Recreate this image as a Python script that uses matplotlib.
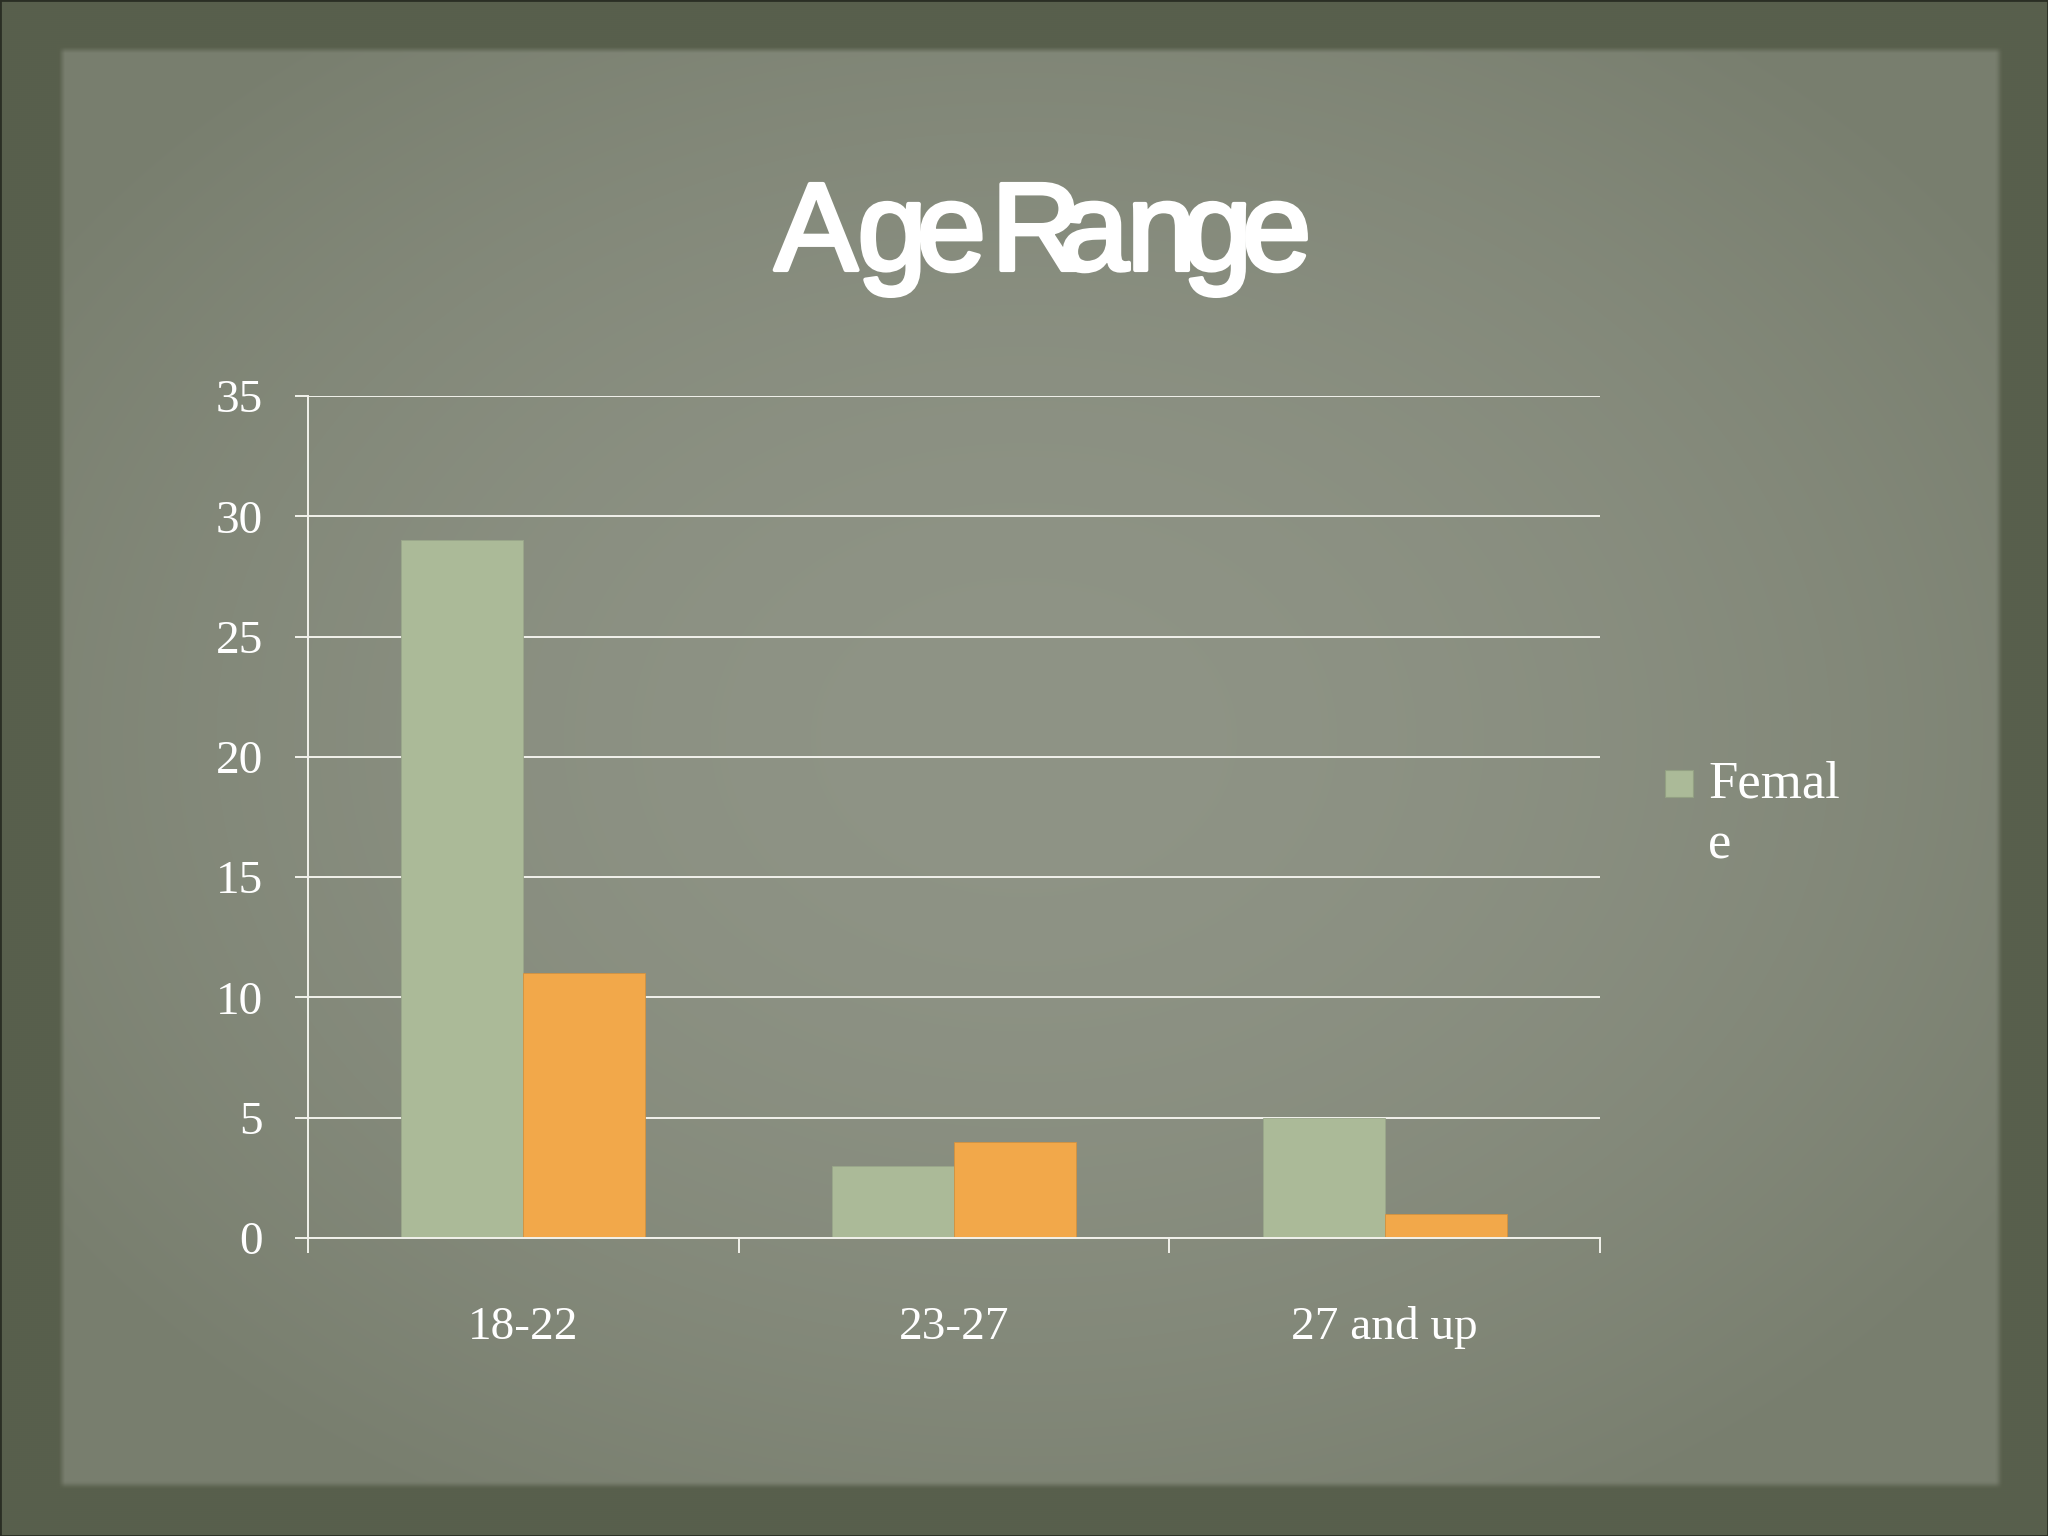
import numpy as np
import matplotlib
matplotlib.use("Agg")
import matplotlib.pyplot as plt
from matplotlib import font_manager
from matplotlib.ft2font import FT2Font, LoadFlags
from matplotlib.patches import Rectangle
import matplotlib.patheffects as pe

# ---- data ----
categories = ["18-22", "23-27", "27 and up"]
female = [29, 3, 5]
male = [11, 4, 1]
y_ticks = [0, 5, 10, 15, 20, 25, 30, 35]
title = "Age Range"
legend_label = "Femal\ne"

W, H, DPI = 2048, 1536, 100
fig = plt.figure(figsize=(W / DPI, H / DPI), dpi=DPI)

# ---- background (frame + paper with vignette) ----
bg = fig.add_axes([0, 0, 1, 1], zorder=-10)
bg.set_axis_off()
nx, ny = 1024, 768
xx, yy = np.meshgrid(np.linspace(0, W, nx), np.linspace(0, H, ny))
frame = np.array([88, 95, 76]) / 255.0
center = np.array([143, 148, 134]) / 255.0
edge = np.array([120, 126, 110]) / 255.0
cx, cy = W * 0.5, H * 0.48
r = np.sqrt(((xx - cx) / (W * 0.58)) ** 2 + ((yy - cy) / (H * 0.58)) ** 2)
t = np.clip(r, 0, 1)[..., None] ** 1.8
paper = center * (1 - t) + edge * t
px0, px1, py0, py1 = 58, 2003, 46, 1489
m = (np.clip((xx - px0) / 6, 0, 1) * np.clip((px1 - xx) / 6, 0, 1) *
     np.clip((yy - py0) / 6, 0, 1) * np.clip((py1 - yy) / 6, 0, 1))[..., None]
img = paper * m + frame * (1 - m)
bg.imshow(img, extent=[0, W, H, 0], aspect="auto", interpolation="bilinear")
bg.set_xlim(0, W)
bg.set_ylim(H, 0)
bg.add_patch(Rectangle((0, 0), W, H, fill=False, edgecolor="#2a2e24", lw=2))

# ---- chart axes ----
left, right = 308 / W, 1600 / W
bottom, top = 1 - 1238 / H, 1 - 396 / H
ax = fig.add_axes([left, bottom, right - left, top - bottom])
ax.patch.set_alpha(0)

c_f = "#abba98"
c_m = "#f2a84a"
x = np.arange(len(categories))
bw = 0.283
ax.bar(x - bw / 2, female, bw, color=c_f, edgecolor="#9aa78a", lw=0.6, zorder=2, label="Female")
ax.bar(x + bw / 2, male, bw, color=c_m, edgecolor="#d3923f", lw=0.6, zorder=2, label="Male")

ax.set_xlim(-0.5, 2.5)
ax.set_ylim(0, 35)
ax.set_axisbelow(True)
ax.set_yticks(y_ticks)
ax.yaxis.grid(True, color="#f2f2ec", lw=1.4)
ax.set_xticks(x)
ax.set_xticklabels(categories)
ax.set_xticks(np.arange(-0.5, len(categories), 1.0), minor=True)

for s in ["top", "right"]:
    ax.spines[s].set_visible(False)
for s in ["left", "bottom"]:
    ax.spines[s].set_color("#f2f2ec")
    ax.spines[s].set_linewidth(1.4)
    ax.spines[s].set_zorder(3)

serif = "Liberation Serif"
ax.tick_params(axis="y", which="major", direction="out", length=9.5, width=1.4,
               color="#f2f2ec", labelcolor="white", labelsize=34, pad=23)
ax.tick_params(axis="x", which="major", length=0, labelcolor="white", labelsize=34, pad=49)
ax.tick_params(axis="x", which="minor", direction="out", length=11, width=1.4, color="#f2f2ec")
for lab in ax.get_xticklabels() + ax.get_yticklabels():
    lab.set_fontfamily(serif)

# ---- title: tightly tracked letters, placed by ink width ----
tsize = 90
fpath = font_manager.findfont(font_manager.FontProperties(family="Liberation Sans"))
ft = FT2Font(fpath)
ft.set_size(tsize, DPI)
ink_w = []
for ch in title:
    g = ft.load_char(ord(ch), flags=LoadFlags.NO_HINTING)
    ink_w.append(g.width / 64.0)
# gap (px) between ink of consecutive letters; the space becomes a small gap
gaps = {("A", "g"): 0, ("g", "e"): 3, ("e", " "): 16, (" ", "R"): 0,
        ("R", "a"): -6, ("a", "n"): 3, ("n", "g"): 3, ("g", "e"): 3}
pos = []
xcur = 0.0
prev = None
for ch, w in zip(title, ink_w):
    if prev is not None:
        xcur += gaps.get((prev, ch), 3)
    if ch == " ":
        prev = ch
        continue
    pos.append((ch, xcur))
    xcur += w
    prev = ch
total = xcur
x0 = 1037.5 - total / 2
base_y = 1 - 270 / H
for ch, xl in pos:
    fig.text((x0 + xl) / W, base_y, ch, fontsize=tsize, family="Liberation Sans",
             color="white", ha="left", va="baseline",
             path_effects=[pe.withStroke(linewidth=3, foreground="white")])

# ---- legend (only the first entry visible, wrapped) ----
fig.patches.append(Rectangle((1665 / W, 1 - 797 / H), 28 / W, 27 / H, transform=fig.transFigure,
                             facecolor=c_f, edgecolor="#93a083", lw=0.8, figure=fig))
fig.text(1708 / W, 1 - 760 / H, legend_label, fontsize=38, family=serif, color="white",
         ha="left", va="top", linespacing=1.36)

fig.savefig("out.png", dpi=DPI)
